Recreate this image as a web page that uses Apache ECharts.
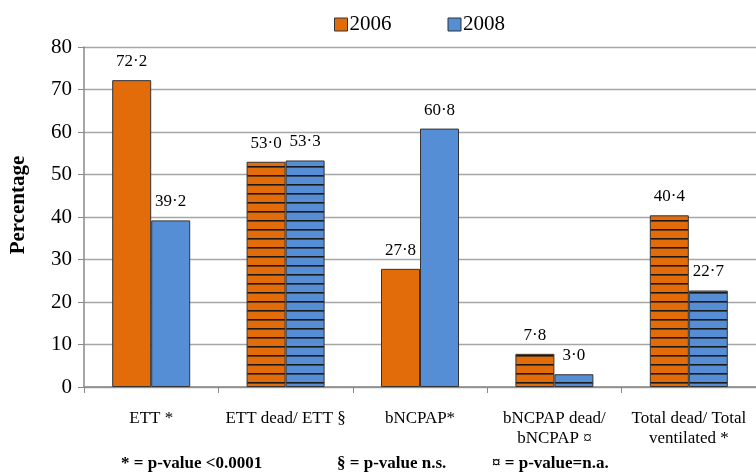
<!DOCTYPE html>
<html><head><meta charset="utf-8">
<script src="https://cdn.jsdelivr.net/npm/echarts@6/dist/echarts.min.js"></script>
<style>html,body{margin:0;padding:0;background:#fff}#c{width:756px;height:472px}</style>
</head><body><div id="c"></div>
<script>
const categories = ['ETT *', 'ETT dead/ ETT §', 'bNCPAP*', 'bNCPAP dead/\nbNCPAP ¤', 'Total dead/ Total\nventilated *'];
const values2006 = [72.2, 53.0, 27.8, 7.8, 40.4];
const values2008 = [39.2, 53.3, 60.8, 3.0, 22.7];
const hatched = [false, true, false, true, true];
const yTicks = [0, 10, 20, 30, 40, 50, 60, 70, 80];
const footnotes = ['* = p-value <0.0001', '§ = p-value n.s.', '¤ = p-value=n.a.'];

const ORANGE = '#E36C0A', BLUE = '#558ED5';
function pattern(base) {
  const c = document.createElement('canvas');
  c.width = 8; c.height = 9;
  const g = c.getContext('2d');
  g.fillStyle = base; g.fillRect(0, 0, 8, 9);
  g.fillStyle = '#1a1a1a'; g.fillRect(0, 4, 8, 1.6);
  return { image: c, repeat: 'repeat' };
}
function mk(vals, base) {
  return vals.map((v, i) => ({ value: v, itemStyle: { color: hatched[i] ? pattern(base) : base } }));
}
const fmt = p => p.value.toFixed(1).replace('.', '·');
const SERIF = '"Liberation Serif","Times New Roman",serif';
const chart = echarts.init(document.getElementById('c'));
chart.setOption({
  animation: false,
  textStyle: { fontFamily: SERIF },
  legend: {
    top: 9, left: 329, itemGap: 56, itemWidth: 13, itemHeight: 13, icon: 'rect',
    textStyle: { fontFamily: SERIF, fontSize: 21, color: '#000', padding: [0, 0, 0, -3] },
    itemStyle: { borderColor: '#333', borderWidth: 1 },
    data: ['2006', '2008']
  },
  grid: { left: 84, top: 47, width: 684, height: 340 },
  xAxis: {
    type: 'category', data: categories,
    axisLine: { lineStyle: { color: '#888', width: 1.5 } },
    axisTick: { show: true, length: 6, lineStyle: { color: '#888' } },
    axisLabel: { fontFamily: SERIF, fontSize: 17, color: '#000', margin: 22, lineHeight: 20, interval: 0 }
  },
  yAxis: {
    type: 'value', min: 0, max: 80, interval: 10,
    axisLine: { show: true, lineStyle: { color: '#888', width: 1.5 } },
    axisTick: { show: true, length: 6, lineStyle: { color: '#888' } },
    axisLabel: { fontFamily: SERIF, fontSize: 21, color: '#000', margin: 12,
      formatter: v => yTicks.includes(v) ? String(v) : '' },
    splitLine: { lineStyle: { color: '#A6A6A6', width: 1.3 } }
  },
  series: [
    { name: '2006', type: 'bar', data: mk(values2006, ORANGE), barWidth: 39, barGap: '0%',
      itemStyle: { color: ORANGE, borderColor: '#333', borderWidth: 1 },
      label: { show: true, position: 'top', distance: 10, formatter: fmt, fontFamily: SERIF, fontSize: 17, color: '#000' } },
    { name: '2008', type: 'bar', data: mk(values2008, BLUE), barWidth: 39, barGap: '0%',
      itemStyle: { color: BLUE, borderColor: '#333', borderWidth: 1 },
      label: { show: true, position: 'top', distance: 10, formatter: fmt, fontFamily: SERIF, fontSize: 17, color: '#000' } }
  ],
  graphic: [
    { type: 'text', x: 19, y: 205, rotation: Math.PI / 2,
      style: { text: 'Percentage', font: 'bold 21px ' + SERIF, fill: '#000', align: 'center', verticalAlign: 'middle' } },
    { type: 'text', left: 121, top: 455, style: { text: footnotes[0], font: 'bold 17px ' + SERIF, fill: '#000' } },
    { type: 'text', left: 337, top: 455, style: { text: footnotes[1], font: 'bold 17px ' + SERIF, fill: '#000' } },
    { type: 'text', left: 492, top: 455, style: { text: footnotes[2], font: 'bold 17px ' + SERIF, fill: '#000' } }
  ]
});
</script></body></html>
